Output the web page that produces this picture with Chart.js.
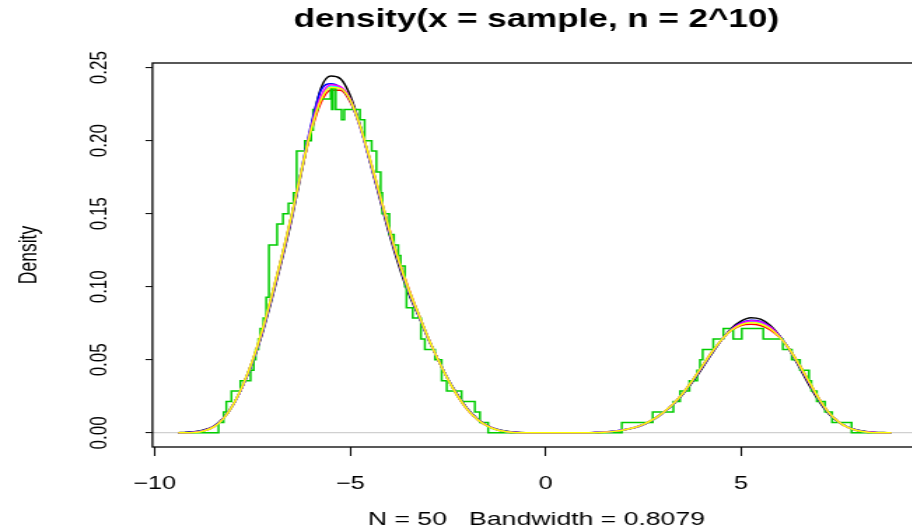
<!DOCTYPE html>
<html>
<head>
<meta charset="utf-8">
<script src="https://cdn.jsdelivr.net/npm/chart.js@4"></script>
<style>
html,body{margin:0;padding:0;background:#fff;overflow:hidden}
#wrap{width:912px;height:531px;overflow:hidden;position:relative;background:#fff}
#c{display:block;transform:scaleX(1.4);transform-origin:0 0}
</style>
</head>
<body>
<div id="wrap"><canvas id="c" width="670" height="531"></canvas></div>
<script>
// ---- data ----
const titleText = 'density(x = sample, n = 2^10)';
const xLabelText = 'N = 50   Bandwidth = 0.8079';
const yLabelText = 'Density';
const xTicks = [-10, -5, 0, 5];
const yTicks = [0, 0.05, 0.10, 0.15, 0.20, 0.25];

const xGrid = [-9.4, -9.25, -9, -8.75, -8.5, -8.25, -8, -7.75, -7.5, -7.25, -7, -6.75, -6.5, -6.25, -6, -5.75, -5.5, -5.25, -5, -4.75, -4.5, -4.25, -4, -3.75, -3.5, -3.25, -3, -2.75, -2.5, -2.25, -2, -1.75, -1.5, -1.25, -1, -0.75, -0.5, 0, 0.5, 1, 1.25, 1.5, 1.75, 2, 2.25, 2.5, 2.75, 3, 3.25, 3.5, 3.75, 4, 4.25, 4.5, 4.75, 5, 5.25, 5.5, 5.75, 6, 6.25, 6.5, 6.75, 7, 7.25, 7.5, 7.75, 8, 8.25, 8.5, 8.75, 8.85];

const gaussian = [0.0001, 0.0003, 0.0008, 0.002, 0.0045, 0.0100, 0.019, 0.032, 0.048, 0.068, 0.092, 0.118, 0.146, 0.178, 0.209, 0.236, 0.2443, 0.2425, 0.231, 0.211, 0.186, 0.161, 0.136, 0.114, 0.095, 0.080, 0.064, 0.050, 0.037, 0.026, 0.0165, 0.0098, 0.0052, 0.0025, 0.0011, 0.0004, 0.0001, 0, 0, 0.0001, 0.0003, 0.0006, 0.0011, 0.002, 0.0033, 0.0055, 0.0089, 0.0135, 0.019, 0.026, 0.0345, 0.044, 0.054, 0.0635, 0.0715, 0.0765, 0.0788, 0.0778, 0.0735, 0.066, 0.0563, 0.0445, 0.0325, 0.0215, 0.0128, 0.0072, 0.0038, 0.0018, 0.0008, 0.0003, 0.0001, 0];

const epanechnikov = [0, 0, 0.0002, 0.0012, 0.0038, 0.0095, 0.019, 0.0325, 0.0495, 0.0705, 0.095, 0.121, 0.149, 0.179, 0.206, 0.226, 0.2345, 0.2345, 0.2265, 0.210, 0.188, 0.164, 0.140, 0.118, 0.0985, 0.0815, 0.065, 0.050, 0.0365, 0.025, 0.0158, 0.0092, 0.0047, 0.002, 0.0006, 0.0001, 0, 0, 0, 0, 0.0001, 0.0004, 0.0010, 0.0020, 0.0035, 0.0058, 0.0092, 0.0138, 0.0195, 0.0268, 0.0358, 0.0455, 0.0552, 0.0635, 0.0700, 0.0735, 0.0743, 0.0735, 0.0705, 0.065, 0.057, 0.0465, 0.0350, 0.0235, 0.0140, 0.0075, 0.0035, 0.0013, 0.0003, 0, 0, 0];

const triangular = [0, 0.0001, 0.0005, 0.0016, 0.0042, 0.0098, 0.019, 0.0322, 0.0488, 0.069, 0.0935, 0.120, 0.148, 0.180, 0.211, 0.2345, 0.239, 0.2365, 0.2275, 0.2095, 0.1865, 0.1625, 0.138, 0.116, 0.0965, 0.0805, 0.0645, 0.050, 0.0368, 0.0255, 0.0162, 0.0095, 0.005, 0.0023, 0.0009, 0.0002, 0, 0, 0, 0, 0.0002, 0.0005, 0.0011, 0.0021, 0.0034, 0.0057, 0.0091, 0.0137, 0.0193, 0.0264, 0.0352, 0.0448, 0.0546, 0.0636, 0.0708, 0.0752, 0.0770, 0.0762, 0.0725, 0.0657, 0.0566, 0.0455, 0.0338, 0.0226, 0.0135, 0.0074, 0.0037, 0.0016, 0.0006, 0.0001, 0, 0];

const biweight = [0, 0, 0.0003, 0.0014, 0.004, 0.0096, 0.019, 0.0324, 0.0492, 0.0698, 0.0943, 0.1203, 0.1483, 0.1795, 0.2082, 0.2292, 0.2374, 0.2364, 0.2282, 0.2102, 0.1873, 0.1633, 0.1388, 0.1168, 0.0973, 0.081, 0.0647, 0.050, 0.0366, 0.0252, 0.016, 0.0093, 0.0048, 0.0021, 0.0007, 0.0001, 0, 0, 0, 0, 0.0001, 0.0005, 0.0011, 0.0021, 0.0035, 0.0057, 0.0091, 0.0137, 0.0194, 0.0266, 0.0356, 0.0452, 0.055, 0.0636, 0.0704, 0.0744, 0.0762, 0.0754, 0.0720, 0.0654, 0.0567, 0.0459, 0.0344, 0.0230, 0.0137, 0.0074, 0.0036, 0.0014, 0.0004, 0, 0, 0];

const cosine = [0, 0, 0.0004, 0.0015, 0.0041, 0.0097, 0.019, 0.0323, 0.049, 0.0695, 0.094, 0.120, 0.148, 0.1795, 0.209, 0.2305, 0.2383, 0.237, 0.2285, 0.210, 0.187, 0.163, 0.1385, 0.1165, 0.097, 0.0808, 0.0646, 0.050, 0.0367, 0.0253, 0.0161, 0.0094, 0.0049, 0.0022, 0.0008, 0.0002, 0, 0, 0, 0, 0.0002, 0.0005, 0.0011, 0.0021, 0.0035, 0.0057, 0.0091, 0.0137, 0.0194, 0.0266, 0.0355, 0.0451, 0.0549, 0.0637, 0.0706, 0.0749, 0.0768, 0.076, 0.0724, 0.0656, 0.0566, 0.0457, 0.0341, 0.0228, 0.0136, 0.0074, 0.0036, 0.0015, 0.0005, 0.0001, 0, 0];

const optcosine = [0, 0, 0.0002, 0.0013, 0.0039, 0.0096, 0.0191, 0.0326, 0.0496, 0.0704, 0.0948, 0.1208, 0.1488, 0.1795, 0.2075, 0.228, 0.2365, 0.2358, 0.2278, 0.2103, 0.1878, 0.1638, 0.1393, 0.1173, 0.0978, 0.0812, 0.0648, 0.050, 0.0366, 0.0251, 0.0159, 0.0093, 0.0048, 0.0021, 0.0007, 0.0001, 0, 0, 0, 0, 0.0001, 0.0004, 0.0010, 0.0020, 0.0035, 0.0058, 0.0092, 0.0138, 0.0195, 0.0267, 0.0357, 0.0454, 0.0551, 0.0636, 0.0702, 0.0740, 0.0753, 0.0745, 0.0713, 0.0652, 0.0568, 0.0462, 0.0347, 0.0232, 0.0138, 0.0074, 0.0035, 0.0014, 0.0004, 0, 0, 0];

// rectangular kernel: step positions and the level that starts at each
const rectX = [-9.39, -8.37, -8.24, -8.17, -8.04, -7.81, -7.55, -7.47, -7.42, -7.35, -7.30, -7.22, -7.15, -7.08, -6.87, -6.72, -6.58, -6.45, -6.37, -6.16, -6.00, -5.95, -5.82, -5.50, -5.47, -5.44, -5.37, -5.22, -5.15, -4.75, -4.63, -4.45, -4.33, -4.22, -4.18, -4.00, -3.88, -3.77, -3.71, -3.60, -3.56, -3.40, -3.19, -3.09, -2.83, -2.66, -2.53, -2.15, -1.81, -1.68, -1.47, 1.95, 2.74, 3.27, 3.44, 3.68, 3.88, 3.95, 4.02, 4.29, 4.55, 4.80, 5.02, 5.57, 6.07, 6.30, 6.51, 6.74, 6.80, 6.94, 7.15, 7.33, 7.83, 8.85];
const rectangular = [0, 0.0071, 0.0143, 0.0214, 0.0286, 0.0357, 0.0429, 0.0500, 0.0571, 0.0643, 0.0714, 0.0786, 0.0929, 0.1286, 0.1429, 0.1500, 0.1571, 0.1643, 0.1929, 0.2000, 0.2071, 0.2214, 0.2286, 0.2357, 0.2214, 0.2357, 0.2214, 0.2143, 0.2214, 0.2143, 0.2000, 0.1929, 0.1786, 0.1643, 0.1500, 0.1357, 0.1286, 0.1214, 0.1143, 0.1000, 0.0857, 0.0786, 0.0643, 0.0571, 0.0500, 0.0357, 0.0286, 0.0214, 0.0143, 0.0071, 0, 0.0071, 0.0143, 0.0214, 0.0286, 0.0357, 0.0429, 0.0500, 0.0571, 0.0643, 0.0714, 0.0643, 0.0714, 0.0643, 0.0571, 0.0500, 0.0429, 0.0357, 0.0286, 0.0214, 0.0143, 0.0071, 0, 0];

// ---- chart ----
const pts = (xs, ys) => xs.map((x, i) => ({x: x, y: ys[i]}));
const smooth = (label, ys, color, order) => ({
  label, data: pts(xGrid, ys), borderColor: color, borderWidth: 1.5,
  pointRadius: 0, fill: false, cubicInterpolationMode: 'monotone', order
});

const sans = "'Liberation Sans', Arial, Helvetica, sans-serif";

const boxPlugin = {
  id: 'rbox',
  afterDatasetsDraw(chart) {
    const a = chart.chartArea, ctx = chart.ctx;
    ctx.save();
    ctx.strokeStyle = '#000';
    ctx.lineWidth = 1.3;
    ctx.strokeRect(a.left, a.top, a.right - a.left, a.bottom - a.top);
    ctx.restore();
  }
};

new Chart(document.getElementById('c'), {
  type: 'line',
  data: {
    datasets: [
      smooth('gaussian', gaussian, '#000000', 7),
      smooth('epanechnikov', epanechnikov, '#FF0000', 6),
      {label: 'rectangular', data: pts(rectX, rectangular), borderColor: '#00CD00', borderWidth: 1.5,
       pointRadius: 0, fill: false, stepped: 'before', order: 5},
      smooth('triangular', triangular, '#0000FF', 4),
      smooth('biweight', biweight, '#00FFFF', 3),
      smooth('cosine', cosine, '#FF00FF', 2),
      smooth('optcosine', optcosine, '#FFFF00', 1)
    ]
  },
  options: {
    responsive: false,
    animation: false,
    events: [],
    devicePixelRatio: 1,
    layout: {padding: {left: 0, right: 12.6, top: 0, bottom: 0}},
    plugins: {
      legend: {display: false},
      tooltip: {enabled: false},
      title: {
        display: true, text: titleText, fullSize: false,
        color: '#000', font: {family: sans, size: 25, weight: 'bold', lineHeight: 1.2},
        padding: {top: 5, bottom: 28}
      }
    },
    scales: {
      x: {
        type: 'linear', min: -10.06, max: 9.59,
        afterBuildTicks: s => { s.ticks = xTicks.map(v => ({value: v})); },
        afterFit: s => { s.height = 84; },
        border: {display: false},
        grid: {display: true, drawOnChartArea: false, drawTicks: true, tickLength: 9, tickColor: '#000', tickWidth: 1.1},
        ticks: {
          color: '#000', font: {family: sans, size: 18}, padding: 17, maxRotation: 0, autoSkip: false,
          callback: v => (v < 0 ? '\u2212' + Math.abs(v) : String(v))
        },
        title: {display: true, text: xLabelText, color: '#000', font: {family: sans, size: 19, lineHeight: 1}, padding: {top: 0, bottom: 1.5}}
      },
      y: {
        type: 'linear', min: -0.0097, max: 0.2532,
        afterBuildTicks: s => { s.ticks = yTicks.map(v => ({value: v})); },
        afterFit: s => { s.width = 108.9; },
        border: {display: false},
        grid: {
          display: true, drawOnChartArea: true, drawTicks: true, tickLength: 5, tickColor: '#000', tickWidth: 1,
          color: c => (c.tick && c.tick.value === 0 ? '#D0D0D0' : 'rgba(0,0,0,0)'), lineWidth: 1.2
        },
        ticks: {
          color: '#000', font: {family: sans, size: 17}, padding: 16, minRotation: 90, maxRotation: 90,
          crossAlign: 'center', autoSkip: false,
          callback: v => v.toFixed(2)
        },
        title: {display: true, text: yLabelText, color: '#000', font: {family: sans, size: 17.5, lineHeight: 1.2}, padding: {top: 10.9, bottom: 0}}
      }
    }
  },
  plugins: [boxPlugin]
});
</script>
</body>
</html>
